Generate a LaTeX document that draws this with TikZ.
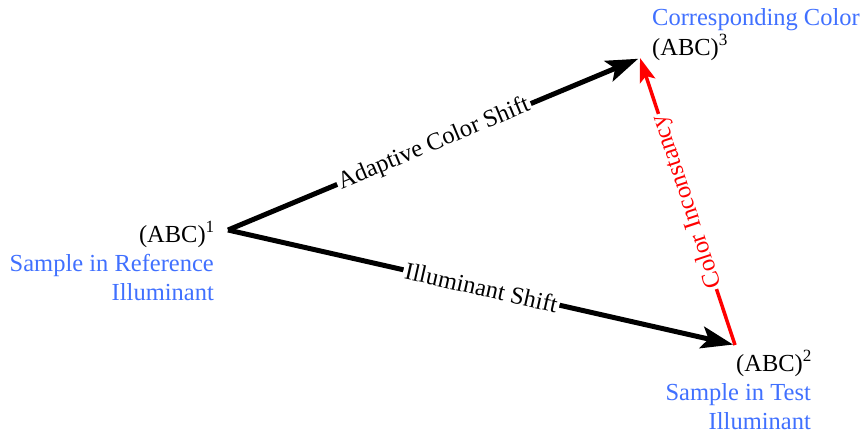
\documentclass[tikz,border=0pt]{standalone}
\usepackage{fontspec}
\setmainfont{Liberation Serif}
\usetikzlibrary{arrows.meta}
\definecolor{noteblue}{RGB}{64,112,255}
\definecolor{shiftred}{RGB}{255,0,0}
\begin{document}
\begin{tikzpicture}[x=1pt,y=-1pt,
  every node/.style={font=\fontsize{24.5}{30}\selectfont, inner sep=0pt},
  note/.style={text=noteblue},
  shiftarrow/.style={draw=black, line width=5pt,
    -{Stealth[length=32pt,width=22pt,inset=7pt]}},
  redarrow/.style={draw=shiftred, line width=3.5pt,
    -{Stealth[length=24pt,width=16pt,inset=5pt]}},
  shiftlabel/.style={fill=white, inner xsep=2pt, inner ysep=1pt, sloped}]
  \useasboundingbox (0,0) rectangle (864,434);

  % the three colour states
  \coordinate (p1) at (228,230);
  \coordinate (p2) at (735,345);
  \coordinate (p3) at (640,58);

  \node[anchor=base east] (abc1) at (215,242) {(ABC)\textsuperscript{1}};
  \node[note, anchor=base east] (ref1) at (214,271) {Sample in Reference};
  \node[note, anchor=base east] (ref2) at (214,300) {Illuminant};

  \node[anchor=base west] (abc2) at (736,371) {(ABC)\textsuperscript{2}};
  \node[note, anchor=base east] (test1) at (811,400) {Sample in Test};
  \node[note, anchor=base east] (test2) at (811,429) {Illuminant};

  \node[note, anchor=base west] (corr) at (652,25) {Corresponding Color};
  \node[anchor=base west] (abc3) at (652,55) {(ABC)\textsuperscript{3}};

  % transformations between the states
  \draw[shiftarrow, shorten >=2pt] (p1) -- node[shiftlabel] (adapt) {Adaptive Color Shift} (p3);
  \draw[shiftarrow, shorten >=2pt] (p1) -- node[shiftlabel] (illum) {Illuminant Shift} (p2);
  \draw[redarrow] (p2) -- node[shiftlabel, text=shiftred, allow upside down] (incon) {Color Inconstancy} (p3);
\end{tikzpicture}
\end{document}
